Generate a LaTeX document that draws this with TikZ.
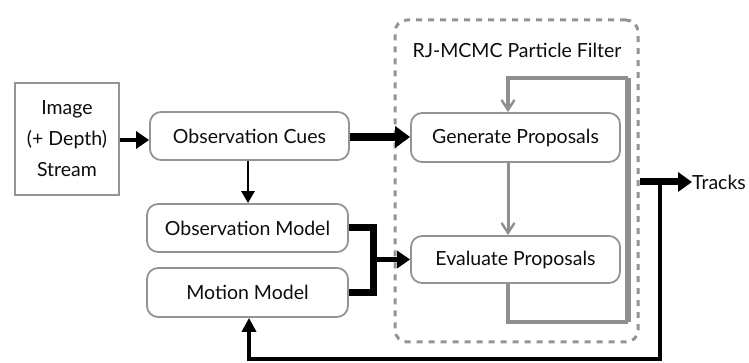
\documentclass[tikz,border=0pt]{standalone}
\usepackage{fontspec}
\setmainfont{Lato}
\usetikzlibrary{arrows.meta}
\definecolor{bord}{gray}{0.58}
\definecolor{loopc}{gray}{0.56}
\definecolor{txt}{gray}{0.05}
\begin{document}
\begin{tikzpicture}[x=1pt,y=1pt,
  every node/.style={font=\fontsize{19.5}{23}\selectfont, text=txt},
  blk/.style={draw=bord, line width=1.8pt, rounded corners=11pt, inner sep=0pt},
  sq/.style={draw=bord, line width=1.5pt, inner sep=0pt, align=center},
  blkarrow/.style={draw=black, -{Triangle[length=13pt,width=17pt]}},
  grayarrow/.style={draw=loopc, -{Straight Barb[length=10pt,width=13pt,line width=2.4pt]}},
]
\useasboundingbox (0,0) rectangle (749,363);
% nodes
\node[sq, minimum width=104, minimum height=112, font=\fontsize{19.5}{31}\selectfont] (img) at (67,224) {Image\\(+ Depth)\\Stream};
\node[blk, minimum width=199, minimum height=48] (cues) at (249.5,227) {Observation Cues};
\node[blk, minimum width=201, minimum height=48] (obsm) at (247.5,135) {Observation Model};
\node[blk, minimum width=201, minimum height=49] (motm) at (247.5,70.5) {Motion Model};
\node[draw=bord, dash pattern=on 6pt off 6pt, line width=3pt, rounded corners=12pt, minimum width=243, minimum height=322, inner sep=0pt] (pf) at (516.5,182) {};
\node (title) at (517,313) {RJ-MCMC Particle Filter};
\node[blk, minimum width=209, minimum height=49] (gen) at (515.5,225.5) {Generate Proposals};
\node[blk, minimum width=209, minimum height=47] (eval) at (515.5,103.5) {Evaluate Proposals};
\node[anchor=west, inner sep=0pt] (tracks) at (692,181) {Tracks};
% coordinates
\coordinate (j) at (373,103.5);
\coordinate (lb) at (508,41);
\coordinate (rb) at (628,41);
\coordinate (rt) at (628,285);
\coordinate (lt) at (508,285);
\coordinate (tj) at (660,181);
\coordinate (bl) at (660,4);
\coordinate (br) at (249,4);
% black connectors
\draw[blkarrow, line width=4pt] (img.east |- 0,223) -- (cues.west |- 0,223);
\draw[blkarrow, line width=2.8pt, -{Triangle[length=12pt,width=13pt]}] (cues.south -| 248,0) -- (obsm.north -| 248,0);
\draw[blkarrow, line width=8.5pt, -{Triangle[length=15pt,width=21pt]}] (cues.east |- 0,226) -- (gen.west |- 0,226);
\draw[line width=7pt] (obsm.east) -| (j);
\draw[line width=7pt] (motm.east) -| (j);
\draw[blkarrow, line width=5pt] (j) -- (eval.west);
\draw[blkarrow, line width=7pt, -{Triangle[length=14pt,width=19pt]}] (pf.east |- tj) -- (tracks.west);
\draw[line width=4pt, -{Triangle[length=14pt,width=14pt]}] (tj) -- (bl) -- (br) -- (motm.south -| br);
% gray loop
\draw[loopc, line width=3.5pt] (eval.south -| lb) -- (lb) -- (rb);
\draw[loopc, line width=6pt] (rb) -- (rt);
\draw[grayarrow, line width=3.5pt] (rt) -- (lt) -- (gen.north -| lt);
\draw[grayarrow, line width=3pt] (gen.south -| lb) -- (eval.north -| lb);
\end{tikzpicture}
\end{document}
